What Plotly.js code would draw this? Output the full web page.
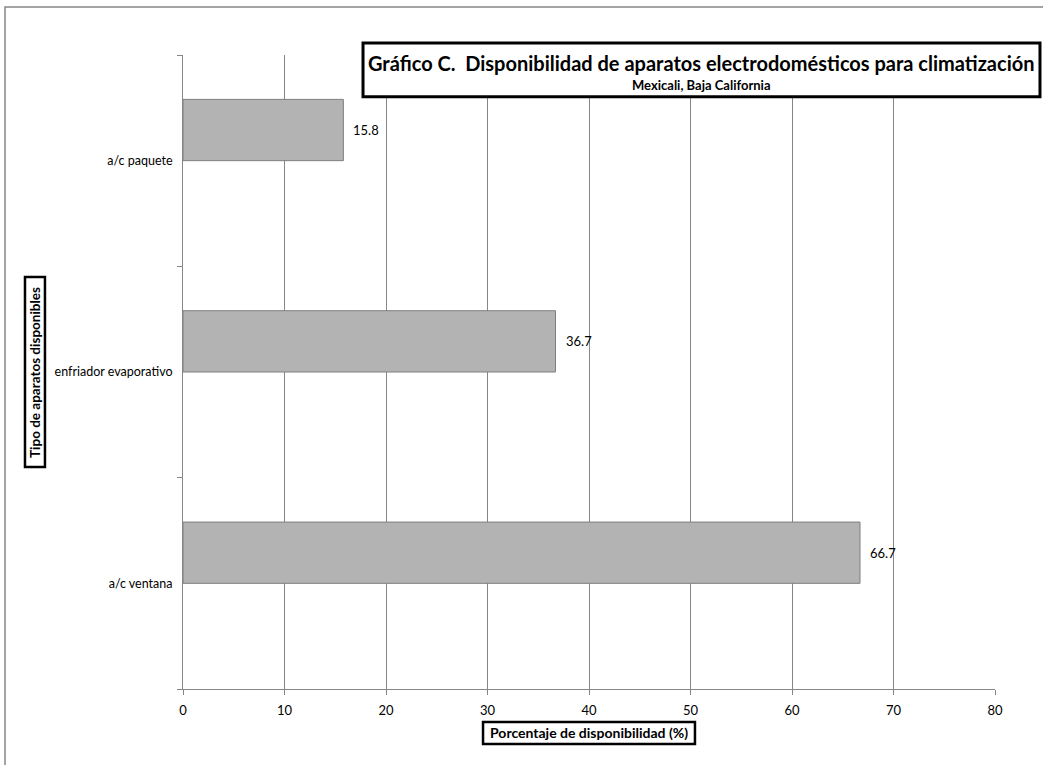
<!DOCTYPE html>
<html>
<head>
<meta charset="utf-8">
<script src="https://cdn.plot.ly/plotly-3.0.1.min.js"></script>
<style>html,body{margin:0;padding:0;background:#fff;}#chart{width:1043px;height:765px;}</style>
</head>
<body>
<div id="chart"></div>
<script>
const categories = ['a/c ventana', 'enfriador evaporativo', 'a/c paquete'];
const values = [66.7, 36.7, 15.8];
const xTicks = [0, 10, 20, 30, 40, 50, 60, 70, 80];

const titleText = 'Gráfico C.  Disponibilidad de aparatos electrodomésticos para climatización';
const subtitleText = 'Mexicali, Baja California';
const xTitleText = 'Porcentaje de disponibilidad (%)';
const yTitleText = 'Tipo de aparatos disponibles';

const FONT = 'Lato, "Open Sans", sans-serif';
const GRID = '#868686';

const trace = {
  type: 'bar',
  orientation: 'h',
  y: categories,
  x: values,
  width: 0.29,
  offset: 0,
  marker: {color: '#b3b3b3', line: {color: '#7f7f7f', width: 1}},
  hoverinfo: 'x+y'
};

const valueLabels = values.map((v, i) => ({
  text: v.toFixed(1), xref: 'x', yref: 'y', x: v, y: i + 0.145,
  xanchor: 'left', yanchor: 'middle', xshift: 8, showarrow: false,
  font: {family: FONT, size: 13, color: '#000'}
}));

const layout = {
  width: 1043, height: 765,
  margin: {l: 183, r: 48, t: 55, b: 76},
  paper_bgcolor: '#fff', plot_bgcolor: '#fff',
  showlegend: false,
  font: {family: FONT, size: 12, color: '#000'},
  xaxis: {
    range: [0, 80], tickvals: xTicks, ticktext: xTicks.map(String),
    ticks: 'outside', ticklen: 5, tickcolor: GRID, ticklabelstandoff: 4,
    showgrid: true, gridcolor: GRID, gridwidth: 1,
    showline: true, linecolor: GRID, linewidth: 1,
    zeroline: false, tickfont: {family: FONT, size: 13, color: '#000'}
  },
  yaxis: {
    type: 'category', categoryorder: 'array', categoryarray: categories,
    range: [-0.5, 2.5], tickson: 'boundaries',
    ticks: 'outside', ticklen: 5, tickcolor: GRID, ticklabelstandoff: 7,
    showgrid: false, showline: true, linecolor: GRID, linewidth: 1,
    zeroline: false, tickfont: {family: FONT, size: 12.5, color: '#000'}
  },
  shapes: [
    {type: 'rect', xref: 'paper', yref: 'paper', x0: -0.2192, x1: 1.08, y0: -0.1435, y1: 1.0757,
     line: {color: '#868686', width: 1.5}, fillcolor: 'rgba(0,0,0,0)', layer: 'below'},
    {type: 'rect', xref: 'paper', yref: 'paper', x0: 0.2217, x1: 1.0554, y0: 0.934, y1: 1.019,
     line: {color: '#000', width: 3}, fillcolor: '#fff', layer: 'above'},
    {type: 'rect', xref: 'paper', yref: 'paper', x0: 0.3695, x1: 0.6305, y0: -0.0868, y1: -0.052,
     line: {color: '#000', width: 2.5}, fillcolor: '#fff', layer: 'above'},
    {type: 'rect', xref: 'paper', yref: 'paper', x0: -0.1946, x1: -0.17, y0: 0.3502, y1: 0.65,
     line: {color: '#000', width: 2.5}, fillcolor: '#fff', layer: 'above'}
  ],
  annotations: [
    {text: '<b>' + titleText + '</b>', xref: 'paper', yref: 'paper', x: 0.6386, y: 0.987,
     xanchor: 'center', yanchor: 'middle', showarrow: false, font: {family: FONT, size: 20, color: '#000'}},
    {text: '<b>' + subtitleText + '</b>', xref: 'paper', yref: 'paper', x: 0.6386, y: 0.953,
     xanchor: 'center', yanchor: 'middle', showarrow: false, font: {family: FONT, size: 13, color: '#000'}},
    {text: '<b>' + xTitleText + '</b>', xref: 'paper', yref: 'paper', x: 0.5, y: -0.0694,
     xanchor: 'center', yanchor: 'middle', showarrow: false, font: {family: FONT, size: 14, color: '#000'}},
    {text: '<b>' + yTitleText + '</b>', xref: 'paper', yref: 'paper', x: -0.1823, y: 0.5,
     xanchor: 'center', yanchor: 'middle', showarrow: false, textangle: -90, font: {family: FONT, size: 13.5, color: '#000'}}
  ].concat(valueLabels)
};

Plotly.newPlot('chart', [trace], layout, {displayModeBar: false, staticPlot: true});
</script>
</body>
</html>
